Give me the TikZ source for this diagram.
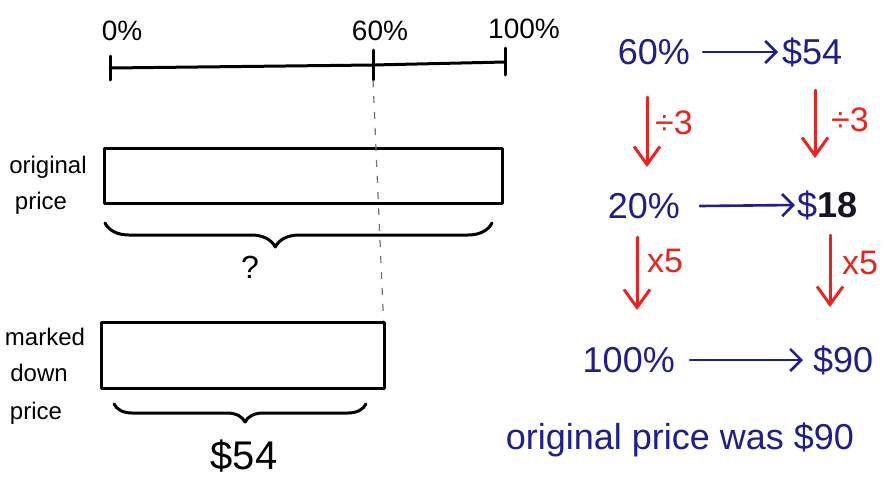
\documentclass[tikz,border=0pt]{standalone}
\usepackage{fontspec}
\setmainfont{Liberation Sans}
\usetikzlibrary{arrows.meta,decorations.pathreplacing}
\definecolor{pen}{RGB}{30,30,140}
\definecolor{redpen}{RGB}{235,35,30}
\definecolor{ink}{RGB}{20,20,40}
\begin{document}
\begin{tikzpicture}[x=1pt,y=-1pt,
  blk/.style={line width=3pt, line cap=round, line join=round},
  boxshape/.style={draw, blk, inner sep=0pt},
  lbl/.style={inner sep=0pt, font=\fontsize{24}{26}\selectfont},
  numlbl/.style={inner sep=0pt, font=\fontsize{28}{30}\selectfont},
  bluetxt/.style={inner sep=0pt, text=pen, font=\fontsize{36}{40}\selectfont},
  redtxt/.style={inner sep=0pt, text=redpen, font=\fontsize{34}{36}\selectfont},
  bluearrow/.style={draw=pen, line width=2.6pt, line cap=round,
    -{Straight Barb[length=11pt,width=22pt,line width=2.6pt]}},
  redarrow/.style={draw=redpen, line width=3pt, line cap=round,
    -{Straight Barb[length=18pt,width=26pt,line width=3pt]}},
  dashline/.style={draw=black!55, line width=1.2pt, dash pattern=on 7pt off 9pt},
  bracestyle/.style={blk, decorate}
]
\useasboundingbox (0,0) rectangle (887,483);

% ---- number line ----
\coordinate (n0) at (110,68);
\coordinate (n60) at (373,65);
\coordinate (n100) at (505,62);
\draw[blk] (n0) -- (n60) -- (n100);
\draw[blk] ([yshift=12pt]n0) -- ([yshift=-12pt]n0);
\draw[blk] ([yshift=15pt]n60) -- ([yshift=-15pt]n60);
\draw[blk] ([yshift=14pt]n100) -- ([yshift=-13pt]n100);
\node[numlbl] (l0) at (122,31) {0\%};
\node[numlbl] (l60) at (380,31) {60\%};
\node[numlbl] (l100) at (524,29) {100\%};

% ---- bars ----
\node[boxshape, minimum width=398pt, minimum height=55pt] (origbox) at (303,175.5) {};
\node[boxshape, minimum width=283pt, minimum height=66pt] (markbox) at (242.5,355) {};

\draw[dashline] ([yshift=-15pt]n60) -- ([xshift=-2pt]markbox.north east);

% ---- labels left ----
\node[lbl] (orig1) at (48,167) {original};
\node[lbl] (orig2) at (41,203) {price};
\node[lbl] (mark1) at (45,337) {marked};
\node[lbl] (mark2) at (39,373) {down};
\node[lbl] (mark3) at (36,413) {price};

% ---- braces ----
\coordinate (b1a) at (105,223);
\coordinate (b1b) at (492,223);
\draw[bracestyle, decoration={brace, mirror, amplitude=24pt, aspect=0.44}] (b1a) -- (b1b);
\node[inner sep=0pt, font=\fontsize{32}{34}\selectfont] (q) at (250,267) {?};

\coordinate (b2a) at (114,404);
\coordinate (b2b) at (366,404);
\draw[bracestyle, decoration={brace, mirror, amplitude=18pt, aspect=0.52}] (b2a) -- (b2b);
\node[inner sep=0pt, font=\fontsize{40}{42}\selectfont] (d54left) at (244,456) {\$54};

% ---- right column ----
\node[bluetxt, anchor=east] (p60) at (690,52) {60\%};
\node[bluetxt, anchor=west] (d54) at (782,52) {\$54};
\node[bluetxt, anchor=east] (p20) at (680,206) {20\%};
\node[bluetxt, anchor=west] (d18) at (797,205) {\$\textcolor{ink}{\textbf{18}}};
\node[bluetxt, anchor=east] (p100) at (675,360) {100\%};
\node[bluetxt, anchor=west] (d90) at (813,360) {\$90};

\draw[bluearrow] ([xshift=13pt]p60.east) -- ([xshift=-4pt]d54.west);
\draw[bluearrow] ([xshift=20pt]p20.east) -- ([xshift=-2pt]d18.west);
\draw[bluearrow] ([xshift=15pt]p100.east) -- ([xshift=-10pt]d90.west);

% red arrows
\coordinate (r1a) at (647,97);  \coordinate (r1b) at (647,167);
\coordinate (r2a) at (815,90);  \coordinate (r2b) at (815,158);
\coordinate (r3a) at (637,237); \coordinate (r3b) at (637,310);
\coordinate (r4a) at (830,235); \coordinate (r4b) at (830,307);
\draw[redarrow] (r1a) -- (r1b);
\draw[redarrow] (r2a) -- (r2b);
\draw[redarrow] (r3a) -- (r3b);
\draw[redarrow] (r4a) -- (r4b);
\node[redtxt] (div1) at (674,123) {÷3};
\node[redtxt] (div2) at (850,120) {÷3};
\node[redtxt] (mul1) at (665,261) {x5};
\node[redtxt] (mul2) at (860,263) {x5};

\node[bluetxt] (answer) at (680,440) {original price was \$90};
\end{tikzpicture}
\end{document}
